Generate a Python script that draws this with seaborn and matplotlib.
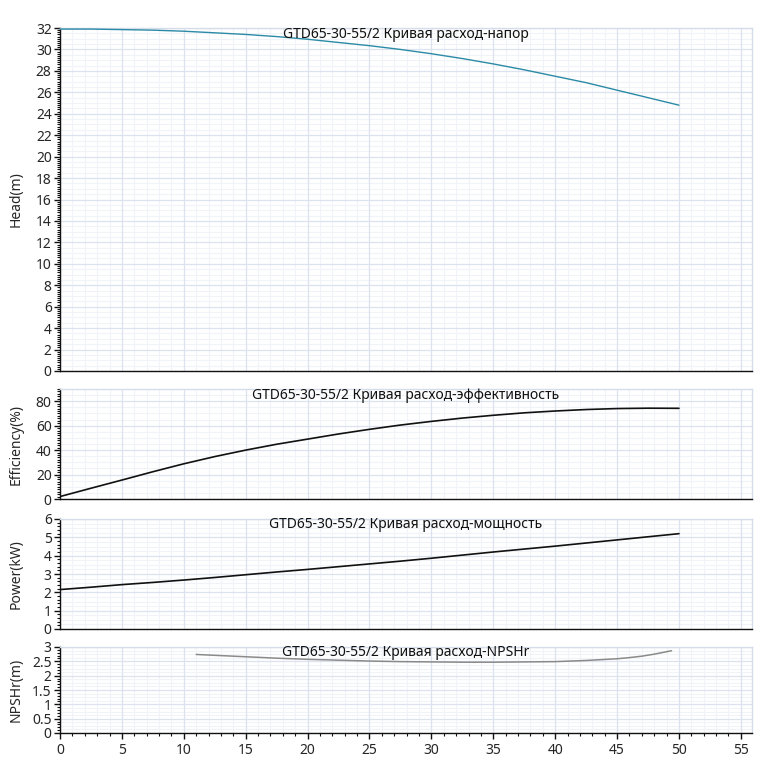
import matplotlib
matplotlib.use("Agg")
import matplotlib.pyplot as plt
import seaborn as sns
import pandas as pd
import numpy as np
from matplotlib.ticker import MultipleLocator, AutoMinorLocator, FuncFormatter

# ---- data ----
flow = [0, 2.5, 5, 7.5, 10, 12.5, 15, 17.5, 20, 22.5, 25, 27.5, 30, 32.5, 35, 37.5, 40, 42.5, 45, 47.5, 50]
head = [31.9, 31.9, 31.85, 31.8, 31.7, 31.55, 31.4, 31.2, 30.95, 30.65, 30.35, 30.0, 29.6, 29.15,
        28.65, 28.1, 27.5, 26.9, 26.2, 25.5, 24.8]
eff = [2, 8.8, 15.5, 22.3, 28.8, 34.7, 40, 44.8, 49, 53.2, 57, 60.5, 63.5, 66.2, 68.5, 70.5, 72,
       73.2, 74, 74.3, 74.2]
power = [2.15, 2.28, 2.42, 2.54, 2.67, 2.81, 2.96, 3.11, 3.25, 3.4, 3.55, 3.7, 3.86, 4.03, 4.2,
         4.36, 4.52, 4.69, 4.86, 5.03, 5.2]
npsh_flow = [11, 12.5, 15, 17.5, 20, 22.5, 25, 27.5, 30, 32.5, 35, 37.5, 40, 42.5, 45, 46, 47, 48, 49.4]
npsh = [2.74, 2.71, 2.66, 2.61, 2.57, 2.54, 2.51, 2.49, 2.48, 2.47, 2.47, 2.48, 2.49, 2.53, 2.59,
        2.63, 2.68, 2.75, 2.87]

title_head = "GTD65-30-55/2 Кривая расход-напор"
title_eff = "GTD65-30-55/2 Кривая расход-эффективность"
title_pow = "GTD65-30-55/2 Кривая расход-мощность"
title_npsh = "GTD65-30-55/2 Кривая расход-NPSHr"

sns.set_style("white")
plt.rcParams['font.family'] = ['Noto Sans', 'DejaVu Sans']

W, H = 776, 761
fig = plt.figure(figsize=(W / 100, H / 100), dpi=100)

def rect(top, bottom):
    return [60 / W, 1 - bottom / H, 692 / W, (bottom - top) / H]

XMAX = 55.9
major_grid = "#dde3ee"
minor_grid = "#f0f3f8"

panels = [
    dict(r=rect(28, 371), x=flow, y=head, color="#2b8aa6", lw=1.0, ylim=(0, 32), major=2, minor_ticks=10,
         grid_sub=4, ylabel="Head(m)", title=title_head),
    dict(r=rect(389, 499), x=flow, y=eff, color="#111111", lw=1.2, ylim=(0, 90), major=20, minor_ticks=10,
         grid_sub=4, ylabel="Efficiency(%)", title=title_eff),
    dict(r=rect(519, 629), x=flow, y=power, color="#111111", lw=1.2, ylim=(0, 6), major=1, minor_ticks=5,
         grid_sub=4, ylabel="Power(kW)", title=title_pow),
    dict(r=rect(647, 733), x=npsh_flow, y=npsh, color="#8a8a8a", lw=1.1, ylim=(0, 3), major=0.5, minor_ticks=5,
         grid_sub=4, ylabel="NPSHr(m)", title=title_npsh),
]

fmt = FuncFormatter(lambda v, pos: "%g" % round(v, 6))

for i, p in enumerate(panels):
    ax = fig.add_axes(p["r"])
    ax.set_xlim(0, XMAX)
    ax.set_ylim(*p["ylim"])
    for xv in np.arange(0, XMAX, 1.0):
        if xv % 5 != 0:
            ax.axvline(xv, color=minor_grid, lw=0.8, zorder=0)
    step = p["major"] / p["grid_sub"]
    for yv in np.arange(0, p["ylim"][1] + 1e-9, step):
        if abs((yv / p["major"]) - round(yv / p["major"])) > 1e-6:
            ax.axhline(yv, color=minor_grid, lw=0.8, zorder=0)
    ax.xaxis.set_major_locator(MultipleLocator(5))
    ax.xaxis.set_minor_locator(MultipleLocator(1))
    ax.yaxis.set_major_locator(MultipleLocator(p["major"]))
    ax.yaxis.set_minor_locator(AutoMinorLocator(p["minor_ticks"]))
    ax.yaxis.set_major_formatter(fmt)
    ax.grid(True, which="major", color=major_grid, lw=0.9, zorder=0)
    ax.set_axisbelow(True)

    df = pd.DataFrame({"x": p["x"], "y": p["y"]})
    sns.lineplot(data=df, x="x", y="y", ax=ax, color=p["color"], lw=p["lw"], zorder=3)

    ax.set_xlim(0, XMAX)
    ax.set_ylim(*p["ylim"])
    ax.set_ylabel(p["ylabel"], fontsize=10)
    ax.yaxis.set_label_coords(-36 / 692, 0.5)
    ax.set_xlabel("")
    for s in ["top", "right"]:
        ax.spines[s].set_color("#d5dcea")
        ax.spines[s].set_linewidth(1.0)
    for s in ["left", "bottom"]:
        ax.spines[s].set_color("#111111")
        ax.spines[s].set_linewidth(1.0)
    ax.tick_params(axis="y", which="major", direction="out", length=4, width=1, color="#111111",
                   labelsize=10, pad=2, left=True)
    ax.tick_params(axis="y", which="minor", direction="out", length=2.5, width=0.8, color="#111111", left=True)
    if i == 3:
        ax.xaxis.set_major_formatter(fmt)
        ax.tick_params(axis="x", which="major", direction="out", length=4, width=1, color="#111111",
                       labelsize=10, pad=3, bottom=True)
        ax.tick_params(axis="x", which="minor", direction="out", length=2.5, width=0.8, color="#111111",
                       bottom=True)
    else:
        ax.tick_params(axis="x", which="both", bottom=False, labelbottom=False)
    ax.annotate(p["title"], xy=(0.5, 1.0), xycoords="axes fraction", xytext=(0, -6),
                textcoords="offset pixels", ha="center", va="center", fontsize=10,
                color="#111111", zorder=5)

fig.savefig("out.png", dpi=100)
